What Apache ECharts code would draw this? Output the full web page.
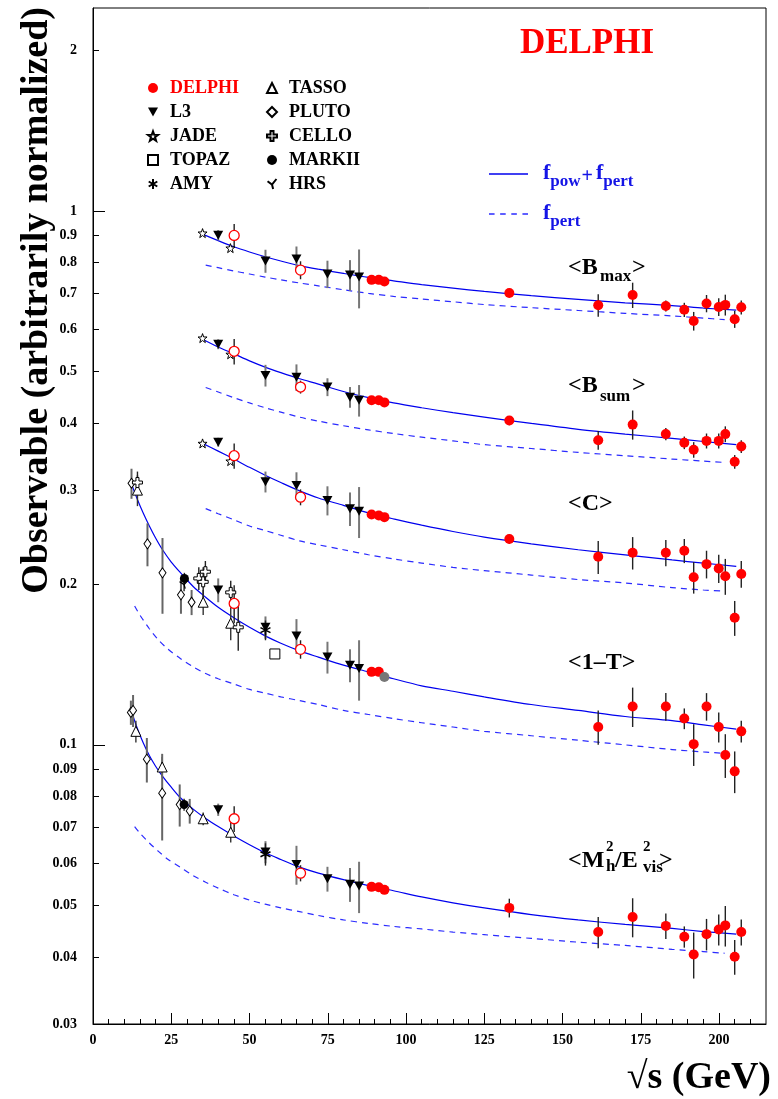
<!DOCTYPE html>
<html><head><meta charset="utf-8">
<script src="https://cdn.jsdelivr.net/npm/echarts@6/dist/echarts.min.js"></script>
<style>html,body{margin:0;padding:0;background:#fff}#c{width:778px;height:1099px}</style>
</head><body><div id="c"></div>
<script>
const FONT = '"Liberation Serif","Times New Roman",serif';
// ---- axis ticks ----
const X_TICKS = [0,25,50,75,100,125,150,175,200];
const X_MINOR_TICKS = [5,10,15,20,30,35,40,45,55,60,65,70,80,85,90,95,105,110,115,120,130,135,140,145,155,160,165,170,180,185,190,195,205,210];
const Y_TICKS = [0.03,0.04,0.05,0.06,0.07,0.08,0.09,0.1,0.2,0.3,0.4,0.5,0.6,0.7,0.8,0.9,1,2];
const Y_MAJOR = [0.1,1];
// ---- data [sqrt(s), value, error] ----
// <B_max>
const BMAX_DELPHI = [[89.0,0.743,0],[91.3,0.743,0],[93.1,0.738,0],[133,0.702,0.013],[161.4,0.666,0.032],[172.4,0.696,0.038],[183,0.664,0.016],[188.9,0.653,0.02],[191.9,0.622,0.025],[196,0.671,0.025],[199.9,0.661,0.025],[202,0.667,0.03],[205,0.627,0.023],[207.1,0.660,0.02]];
const BMAX_DELPHI_RAD = [[45.1,0.900,0.045],[66.3,0.775,0.03]];
const BMAX_L3 = [[40,0.901,0.02],[55.1,0.806,0.04],[65,0.813,0.045],[74.9,0.762,0.045],[82.1,0.759,0.05],[85,0.752,0.095]];
const BMAX_JADE = [[35,0.909,0],[43.9,0.852,0]];
const BMAX_FIT = [[35,0.905],[40,0.880],[45,0.857],[50,0.838],[55,0.821],[60,0.806],[66,0.790],[72,0.778],[80,0.764],[88,0.751],[96,0.740],[105,0.728],[115,0.717],[125,0.707],[140,0.694],[155,0.683],[170,0.673],[185,0.665],[195,0.658],[205.5,0.652]];
const BMAX_PERT = [[36,0.792],[40,0.783],[45,0.772],[50,0.762],[55,0.752],[60,0.743],[66,0.733],[72,0.724],[80,0.712],[88,0.701],[96,0.692],[105,0.684],[115,0.676],[125,0.668],[140,0.659],[155,0.651],[170,0.643],[185,0.636],[195,0.630],[201.8,0.626]];
// <B_sum>
const BSUM_DELPHI = [[89.0,0.442,0],[91.3,0.442,0],[93.1,0.438,0],[133,0.405,0.008],[161.4,0.372,0.015],[172.4,0.398,0.025],[183,0.382,0.01],[188.9,0.368,0.01],[191.9,0.357,0.012],[196,0.371,0.012],[199.9,0.371,0.012],[202,0.382,0.013],[205,0.339,0.01],[207.1,0.362,0.01]];
const BSUM_DELPHI_RAD = [[45.1,0.546,0.03],[66.3,0.468,0.013]];
const BSUM_L3 = [[40,0.563,0.012],[55.1,0.492,0.023],[65,0.488,0.028],[74.9,0.468,0.018],[82.1,0.448,0.02],[85,0.442,0.03]];
const BSUM_JADE = [[35,0.578,0],[43.9,0.539,0]];
const BSUM_FIT = [[35,0.575],[40,0.556],[45,0.540],[50,0.524],[55,0.510],[60,0.498],[66,0.485],[72,0.474],[80,0.459],[88,0.447],[96,0.437],[105,0.428],[115,0.419],[125,0.411],[140,0.400],[155,0.390],[170,0.382],[185,0.375],[195,0.370],[205.5,0.365]];
const BSUM_PERT = [[36,0.467],[40,0.458],[45,0.447],[50,0.437],[55,0.428],[60,0.420],[66,0.411],[72,0.404],[80,0.396],[88,0.389],[96,0.383],[105,0.377],[115,0.371],[125,0.365],[140,0.359],[155,0.353],[170,0.348],[185,0.343],[195,0.340],[201.8,0.338]];
// <C>
const C_DELPHI = [[89.0,0.270,0],[91.3,0.269,0],[93.1,0.267,0],[133,0.243,0.005],[161.4,0.225,0.016],[172.4,0.229,0.016],[183,0.229,0.013],[188.9,0.231,0.012],[191.9,0.206,0.014],[196,0.218,0.013],[199.9,0.214,0.013],[202,0.207,0.016],[205,0.173,0.013],[207.1,0.209,0.012]];
const C_DELPHI_RAD = [[45.1,0.348,0.019],[66.3,0.291,0.01]];
const C_L3 = [[40,0.369,0.007],[55.1,0.311,0.014],[65,0.306,0.018],[74.9,0.287,0.018],[82.1,0.277,0.02],[85,0.274,0.03]];
const C_JADE = [[35,0.367,0],[43.9,0.340,0]];
const C_FIT = [[35,0.367],[40,0.355],[45,0.343],[50,0.331],[55,0.320],[60,0.310],[66,0.299],[72,0.290],[80,0.281],[88,0.272],[96,0.265],[105,0.258],[115,0.251],[125,0.245],[140,0.238],[155,0.232],[170,0.227],[185,0.222],[195,0.219],[205.5,0.216]];
const C_PERT = [[36,0.277],[40,0.271],[45,0.264],[50,0.257],[55,0.252],[60,0.247],[66,0.241],[72,0.237],[80,0.232],[88,0.227],[96,0.223],[105,0.219],[115,0.215],[125,0.212],[140,0.208],[155,0.204],[170,0.201],[185,0.197],[195,0.195],[201.8,0.194]];
// <1-T>
const T_DELPHI = [[89.0,0.137,0],[91.3,0.137,0],[161.4,0.108,0.008],[172.4,0.118,0.01],[183,0.118,0.007],[188.9,0.112,0.005],[191.9,0.1003,0.009],[196,0.118,0.007],[199.9,0.108,0.007],[202,0.0957,0.009],[205,0.0892,0.008],[207.1,0.106,0.005]];
const T_DELPHI_GREY = [[93.1,0.134,0]];
const T_DELPHI_RAD = [[45.1,0.184,0.015],[66.3,0.151,0.006]];
const T_L3 = [[40,0.195,0.01],[55.1,0.166,0.008],[65,0.160,0.012],[74.9,0.146,0.01],[82.1,0.141,0.01],[85,0.139,0.018]];
const T_TASSO = [[14.2,0.300,0.02],[35.2,0.185,0.01],[44,0.169,0.012]];
const T_PLUTO = [[12.3,0.309,0.02],[17.4,0.238,0.022],[22.2,0.210,0.034],[28.1,0.191,0.015],[31.5,0.185,0.01]];
const T_CELLO = [[14.2,0.310,0.015],[33.8,0.205,0.01],[35.2,0.202,0.013],[35.9,0.211,0.01],[44,0.193,0.01],[46.4,0.166,0.016]];
const T_MARKII = [[29.2,0.205,0.005]];
const T_HRS = [[29.1,0.200,0.006]];
const T_AMY = [[55.1,0.164,0.007]];
const T_TOPAZ = [[58.1,0.148,0]];
const T_FIT = [[12.3,0.308],[14,0.290],[16,0.272],[18,0.257],[20,0.244],[22,0.233],[25,0.220],[28,0.210],[32,0.198],[36,0.189],[40,0.181],[45,0.173],[50,0.166],[55,0.160],[60,0.155],[66,0.150],[72,0.146],[80,0.141],[88,0.137],[96,0.133],[105,0.129],[115,0.126],[125,0.123],[140,0.119],[155,0.116],[170,0.113],[185,0.111],[195,0.109],[205.5,0.107]];
const T_PERT = [[13.3,0.182],[15,0.175],[18,0.165],[21,0.157],[24,0.151],[28,0.145],[32,0.140],[36,0.136],[40,0.133],[45,0.130],[50,0.127],[55,0.125],[60,0.123],[66,0.121],[72,0.119],[80,0.116],[88,0.114],[96,0.112],[105,0.110],[115,0.108],[125,0.106],[140,0.104],[155,0.102],[170,0.100],[185,0.098],[195,0.097],[201.8,0.0964]];
// <Mh^2/Evis^2>
const MH_DELPHI = [[89.0,0.0542,0],[91.3,0.0541,0],[93.1,0.0535,0],[133,0.0495,0.002],[161.4,0.0446,0.003],[172.4,0.0476,0.004],[183,0.0458,0.0025],[188.9,0.0437,0.002],[191.9,0.0405,0.004],[196,0.0442,0.003],[199.9,0.0451,0.003],[202,0.0459,0.004],[205,0.0401,0.003],[207.1,0.0446,0.0025]];
const MH_DELPHI_RAD = [[45.1,0.0727,0.004],[66.3,0.0575,0.002]];
const MH_L3 = [[40,0.0756,0.002],[55.1,0.0630,0.003],[65,0.0597,0.005],[74.9,0.0561,0.003],[82.1,0.0548,0.004],[85,0.0544,0.006]];
const MH_TASSO = [[13.7,0.106,0.005],[22.1,0.0909,0.004],[35.2,0.0727,0.002],[44,0.0686,0.003]];
const MH_PLUTO = [[12.1,0.115,0.006],[12.8,0.116,0.008],[17.2,0.094,0.009],[22.1,0.0812,0.015],[27.7,0.0773,0.007],[30.9,0.0752,0.004]];
const MH_MARKII = [[29.1,0.0773,0.002]];
const MH_AMY = [[55.1,0.0624,0.003]];
const MH_FIT = [[12.2,0.116],[14,0.108],[16,0.101],[18,0.0955],[20,0.0912],[22,0.0877],[25,0.0833],[28,0.0795],[32,0.0758],[36,0.0728],[40,0.0703],[45,0.0675],[50,0.0650],[55,0.0628],[60,0.0610],[66,0.0590],[72,0.0575],[80,0.0559],[88,0.0545],[96,0.0533],[105,0.0519],[115,0.0506],[125,0.0495],[140,0.0481],[155,0.0470],[170,0.0461],[185,0.0453],[195,0.0447],[205.5,0.0442]];
const MH_PERT = [[13.3,0.0703],[15,0.0683],[18,0.0655],[21,0.0631],[24,0.0610],[28,0.0589],[32,0.0569],[36,0.0553],[40,0.0539],[45,0.0524],[50,0.0512],[55,0.0503],[60,0.0495],[66,0.0487],[72,0.0479],[80,0.0470],[88,0.0463],[96,0.0457],[105,0.0452],[115,0.0446],[125,0.0441],[140,0.0434],[155,0.0427],[170,0.0421],[185,0.0414],[195,0.0410],[201.8,0.0407]];

// ---- symbols ----
const SYM = {
  DELPHI: {symbol:'circle', size:10, fill:'#ff0000', stroke:'#ff0000', bw:0},
  DELPHI_RAD: {symbol:'circle', size:10, fill:'#ffffff', stroke:'#ff0000', bw:1.3},
  DELPHI_GREY: {symbol:'circle', size:10, fill:'#777777', stroke:'#777777', bw:0},
  L3: {symbol:'path://M-5,-4L5,-4L0,5Z', size:[10,9], fill:'#000', stroke:'#000', bw:0},
  JADE: {symbol:'path://M0,-10L2.35,-3.24L9.51,-3.09L3.8,1.24L5.88,8.09L0,4L-5.88,8.09L-3.8,1.24L-9.51,-3.09L-2.35,-3.24Z', size:9, fill:'#fff', stroke:'#000', bw:1},
  TOPAZ: {symbol:'rect', size:10, fill:'#fff', stroke:'#000', bw:1},
  AMY: {symbol:'path://M0,-5L0,5M-4.3,-2.5L4.3,2.5M-4.3,2.5L4.3,-2.5', size:10, fill:'rgba(0,0,0,0)', stroke:'#000', bw:1.6},
  TASSO: {symbol:'triangle', size:[10,10], fill:'#fff', stroke:'#000', bw:1},
  PLUTO: {symbol:'diamond', size:[7,10], fill:'#fff', stroke:'#000', bw:1},
  CELLO: {symbol:'path://M-1.2,-4L1.2,-4L1.2,-1.2L4,-1.2L4,1.2L1.2,1.2L1.2,4L-1.2,4L-1.2,1.2L-4,1.2L-4,-1.2L-1.2,-1.2Z', size:10, fill:'#fff', stroke:'#000', bw:1},
  MARKII: {symbol:'circle', size:9, fill:'#000', stroke:'#000', bw:0},
  HRS: {symbol:'path://M-4,-1L0,2L4,-3M0,2L1,6', size:9, fill:'rgba(0,0,0,0)', stroke:'#000', bw:1.3}
};
const ERRCOL = {DELPHI:'#222', DELPHI_RAD:'#222', DELPHI_GREY:'#222', L3:'#777', JADE:'#222', TOPAZ:'#222', AMY:'#222', TASSO:'#333', PLUTO:'#666', CELLO:'#222', MARKII:'#222', HRS:'#222'};
const NAMES = {DELPHI_RAD:'DELPHI', DELPHI_GREY:'DELPHI'};
const BLUE = '#1414e6';

const series = [];
function fit(data, dashed) {
  series.push({type:'line', name: dashed ? 'fpert' : 'fpow+fpert', data, symbol:'none', smooth:0.3,
    lineStyle:{color: dashed ? '#2b2bff' : '#0000ee', width:1.2, type: dashed ? [6,5] : 'solid'},
    itemStyle:{color: dashed ? '#2b2bff' : '#0000ee'}, z:1, silent:true});
}
function pts(key, data) {
  const s = SYM[key];
  series.push({type:'custom', data, encode:{x:0,y:1}, z:2, silent:true,
    renderItem:(p, api) => {
      const x = api.value(0), y = api.value(1), e = api.value(2);
      if (!e) return null;
      const a = api.coord([x, y - e]), b = api.coord([x, y + e]);
      return {type:'line', shape:{x1:a[0], y1:a[1], x2:b[0], y2:b[1]}, style:{stroke:ERRCOL[key], lineWidth: key==='L3'||key==='PLUTO' ? 2 : 1.4}};
    }});
  series.push({type:'scatter', name: NAMES[key] || key, data, symbol:s.symbol, symbolSize:s.size,
    itemStyle:{color:s.fill, borderColor:s.stroke, borderWidth:s.bw, opacity:1}, z:3, silent:true});
}
pts('DELPHI', BMAX_DELPHI); pts('DELPHI', BSUM_DELPHI); pts('DELPHI', C_DELPHI); pts('DELPHI', T_DELPHI); pts('DELPHI', MH_DELPHI);
pts('DELPHI_GREY', T_DELPHI_GREY);
[BMAX_FIT, BSUM_FIT, C_FIT, T_FIT, MH_FIT].forEach(d => fit(d, false));
[BMAX_PERT, BSUM_PERT, C_PERT, T_PERT, MH_PERT].forEach(d => fit(d, true));
pts('L3', BMAX_L3); pts('L3', BSUM_L3); pts('L3', C_L3); pts('L3', T_L3); pts('L3', MH_L3);
pts('JADE', BMAX_JADE); pts('JADE', BSUM_JADE); pts('JADE', C_JADE);
pts('TOPAZ', T_TOPAZ);
pts('AMY', T_AMY); pts('AMY', MH_AMY);
pts('TASSO', T_TASSO); pts('TASSO', MH_TASSO);
pts('PLUTO', T_PLUTO); pts('PLUTO', MH_PLUTO);
pts('CELLO', T_CELLO);
pts('MARKII', T_MARKII); pts('MARKII', MH_MARKII);
pts('HRS', T_HRS);
pts('DELPHI_RAD', BMAX_DELPHI_RAD); pts('DELPHI_RAD', BSUM_DELPHI_RAD); pts('DELPHI_RAD', C_DELPHI_RAD); pts('DELPHI_RAD', T_DELPHI_RAD); pts('DELPHI_RAD', MH_DELPHI_RAD);

const legTxt = {fontFamily:FONT, fontWeight:'bold', fontSize:18, color:'#000', padding:[0,0,0,7]};
const richF = {
  f:{fontFamily:FONT, fontWeight:'bold', fontSize:22, color:BLUE, lineHeight:24, verticalAlign:'top'},
  p:{fontFamily:FONT, fontWeight:'bold', fontSize:20, color:BLUE, lineHeight:20, verticalAlign:'top', padding:[5,3,0,1]},
  s:{fontFamily:FONT, fontWeight:'bold', fontSize:17, color:BLUE, lineHeight:15, verticalAlign:'top', padding:[11,0,0,0]}
};
const ICON_SOLID = 'path://M0,0H39V1.3H0Z';
const ICON_DASH = 'path://M0,0H5V1.3H0Z M10,0H15V1.3H10Z M20,0H25V1.3H20Z M30,0H35V1.3H30Z';
const lineLegend = (top, name, icon) => ({
  orient:'vertical', left:484, top, itemWidth:39, itemHeight:14, data:[{name, icon}], selectedMode:false,
  formatter: n => n === 'fpert' ? '{f|f}{s|pert}' : '{f|f}{s|pow}{p|+}{f|f}{s|pert}',
  textStyle:{padding:[0,0,0,10], rich:richF}
});

function lbl(text, x, y, size) {
  return {type:'text', x, y, silent:true, style:{text, fontFamily:FONT, fontWeight:'bold', fontSize:size, fill:'#000', align:'left', verticalAlign:'middle'}};
}

const option = {
  animation:false,
  backgroundColor:'#fff',
  grid:{left:93, right:12, top:8, bottom:75, show:true, borderColor:'#000', borderWidth:1, backgroundColor:'#fff'},
  xAxis:[
    {type:'value', min:0, max:215, position:'bottom',
     axisLine:{show:true, lineStyle:{color:'#000', width:1}},
     axisTick:{show:true, inside:true, length:11, customValues:X_TICKS, lineStyle:{color:'#000'}},
     axisLabel:{customValues:X_TICKS, fontFamily:FONT, fontWeight:'bold', fontSize:14, color:'#000', margin:9},
     splitLine:{show:false}},
    {type:'value', min:0, max:215, position:'bottom', offset:0,
     axisLine:{show:false}, axisTick:{show:true, inside:true, length:5, customValues:X_MINOR_TICKS, lineStyle:{color:'#000'}},
     axisLabel:{show:false}, splitLine:{show:false}}
  ],
  yAxis:[
    {type:'log', logBase:10, min:0.03, max:2.4,
     axisLine:{show:true, lineStyle:{color:'#000', width:1}},
     axisTick:{show:true, inside:true, length:6, customValues:Y_TICKS, lineStyle:{color:'#000'}},
     axisLabel:{customValues:Y_TICKS, fontFamily:FONT, fontWeight:'bold', fontSize:14, color:'#000', margin:16,
       formatter: v => String(parseFloat(Number(v).toPrecision(3)))},
     splitLine:{show:false}, minorTick:{show:false}},
    {type:'log', logBase:10, min:0.03, max:2.4, position:'left', offset:0,
     axisLine:{show:false}, axisTick:{show:true, inside:true, length:12, customValues:Y_MAJOR, lineStyle:{color:'#000'}},
     axisLabel:{show:false}, splitLine:{show:false}}
  ],
  legend:[
    {orient:'vertical', left:142, top:74, itemWidth:10, itemHeight:10, itemGap:6, selectedMode:false,
     data:[{name:'DELPHI', textStyle:{color:'#ff0000'}}, 'L3', 'JADE', 'TOPAZ', 'AMY'], textStyle:legTxt},
    {orient:'vertical', left:261, top:74, itemWidth:10, itemHeight:10, itemGap:6, selectedMode:false,
     data:['TASSO', 'PLUTO', 'CELLO', 'MARKII', 'HRS'], textStyle:legTxt},
    lineLegend(157, 'fpow+fpert', ICON_SOLID),
    lineLegend(197, 'fpert', ICON_DASH)
  ],
  graphic:[
    {type:'text', x:587, y:44, silent:true, style:{text:'DELPHI', fontFamily:FONT, fontWeight:'bold', fontSize:35, fill:'#ff0000', align:'center', verticalAlign:'middle'}},
    {type:'text', x:37, y:7, rotation:Math.PI/2, silent:true, style:{text:'Observable (arbitrarily normalized)', fontFamily:FONT, fontWeight:'bold', fontSize:38, fill:'#000', align:'right', verticalAlign:'middle'}},
    {type:'text', x:771, y:1078, silent:true, style:{text:'\u221As (GeV)', fontFamily:FONT, fontWeight:'bold', fontSize:38, fill:'#000', align:'right', verticalAlign:'middle'}},
    lbl('<B', 568, 267.5, 24), lbl('max', 600, 277, 17), lbl('>', 632, 267.5, 24),
    lbl('<B', 568, 385.5, 24), lbl('sum', 600, 397, 17), lbl('>', 632, 385.5, 24),
    lbl('<C>', 568, 503.3, 24),
    lbl('<1\u2013T>', 568, 662.5, 24),
    lbl('<M', 568, 860.5, 24), lbl('2', 606, 847, 15), lbl('h', 606, 867, 17), lbl('/E', 615, 860.5, 24), lbl('2', 643, 847, 15), lbl('vis', 643, 867.5, 17), lbl('>', 659, 860.5, 24)
  ],
  series
};
const chart = echarts.init(document.getElementById('c'), null, {renderer:'canvas'});
chart.setOption(option);
</script></body></html>
